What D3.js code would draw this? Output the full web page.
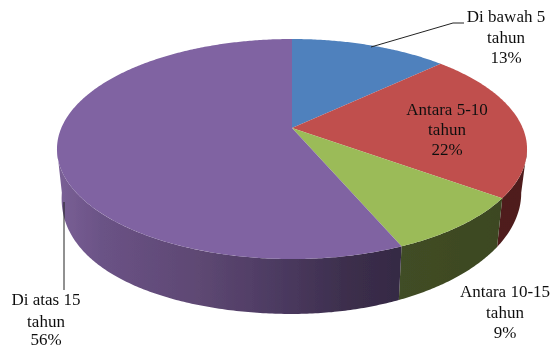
<!DOCTYPE html>
<html><head><meta charset="utf-8">
<style>html,body{margin:0;padding:0;background:#fff}svg{display:block}
text{font-family:"Liberation Serif",serif;font-size:17px;fill:#111;text-anchor:middle}</style>
<script src="https://cdn.jsdelivr.net/npm/d3@7"></script></head><body>
<svg id="c" width="552" height="350"></svg>
<script>
const categories = ["Di bawah 5 tahun","Antara 5-10 tahun","Antara 10-15 tahun","Di atas 15 tahun"];
const values = [13, 22, 8.6, 56.4];
const labelLines = [["Di bawah 5","tahun"],["Antara 5-10","tahun"],["Antara 10-15","tahun"],["Di atas 15","tahun"]];
const topColors = ["#4f81bd","#c0504d","#9bbb59","#8064a2"];

const svg = d3.select("#c");
const K = 0.191;
const topFace = {cx:292, cy:128, a:230.7, b:106, bulge:0};
const baseFace = {cx:292, cy:169.7, a:225, b:116.7, bulge:26};
const project = (f, t) => {
  const u = Math.sin(t), v = -Math.cos(t), w = 1 - K*v;
  const extra = u < 0 && v > 0 ? f.bulge*u*v*v : 0;
  return [f.cx + f.a*u/w + extra, f.cy + f.b*v/w];
};
const samples = (t0, t1) => {
  const n = Math.max(2, Math.ceil((t1-t0)/0.01));
  return d3.range(n+1).map(i => t0 + (t1-t0)*i/n);
};
const line = d3.line();
const arcs = d3.pie().sort(null)(values);

const defs = svg.append("defs");
const grad = (id, stops) => {
  const g = defs.append("linearGradient").attr("id", id)
    .attr("gradientUnits","userSpaceOnUse").attr("x1",57).attr("x2",527).attr("y1",0).attr("y2",0);
  stops.forEach(([o,c]) => g.append("stop").attr("offset",o).attr("stop-color",c));
};
grad("w0",[[0,"#3a5f8e"],[1,"#3a5f8e"]]);
grad("w1",[[0,"#4a1e1c"],[1,"#4f1f1d"]]);
grad("w2",[[0,"#414d25"],[0.73,"#414d25"],[0.95,"#3c4722"],[1,"#3c4722"]]);
grad("w3",[[0,"#7a6096"],[0.1,"#6a5285"],[0.3,"#5e4873"],[0.46,"#4d3b62"],[0.62,"#3c2e4c"],[0.73,"#352a44"],[1,"#352a44"]]);

const blur = defs.append("filter").attr("id","soft");
blur.append("feGaussianBlur").attr("stdDeviation",0.35);
const g = svg.append("g").attr("filter","url(#soft)");

// side wall, front-facing part only (between the two silhouette tangents)
const tangent = Math.acos(-K);
arcs.forEach((d,i) => {
  const t0 = Math.max(d.startAngle, tangent);
  const t1 = Math.min(d.endAngle, 2*Math.PI - tangent);
  if (t1 <= t0) return;
  const ts = samples(t0,t1);
  const pts = ts.map(t => project(topFace,t)).concat(ts.slice().reverse().map(t => project(baseFace,t)));
  g.append("path").attr("d", line(pts)+"Z").attr("fill",`url(#w${i})`);
});
// top surface
arcs.forEach((d,i) => {
  const pts = [[topFace.cx, topFace.cy]].concat(samples(d.startAngle,d.endAngle).map(t => project(topFace,t)));
  g.append("path").attr("d", line(pts)+"Z").attr("fill",topColors[i]);
});

// leader lines
const leaders = [[[371,47],[453,23],[464,23]], null, null, [[64,202],[64,290]]];
leaders.forEach(l => { if(l) g.append("path").attr("d",line(l)).attr("fill","none").attr("stroke","#222").attr("stroke-width",1); });

// labels
const labelPos = [[506,[22,43,63]],[447,[115,135,155]],[505,[297,318,338]],[46,[305,327,345]]];
const pct = d3.format(".0f");
arcs.forEach((d,i) => {
  const [x,ys] = labelPos[i];
  const lines = labelLines[i].concat(pct(values[i])+"%");
  lines.forEach((s,j) => g.append("text").attr("x",x).attr("y",ys[j]).text(s));
});
</script></body></html>
